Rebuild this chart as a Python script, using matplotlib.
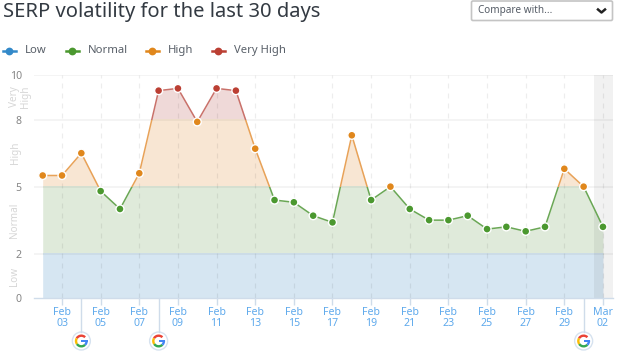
import matplotlib
matplotlib.use("Agg")
import matplotlib.pyplot as plt
from matplotlib.patches import Rectangle, Circle, Wedge, FancyBboxPatch

plt.rcParams['font.family'] = ['Noto Sans', 'DejaVu Sans']

title = "SERP volatility for the last 30 days"
dates = ["Feb 02","Feb 03","Feb 04","Feb 05","Feb 06","Feb 07","Feb 08","Feb 09","Feb 10","Feb 11",
         "Feb 12","Feb 13","Feb 14","Feb 15","Feb 16","Feb 17","Feb 18","Feb 19","Feb 20","Feb 21",
         "Feb 22","Feb 23","Feb 24","Feb 25","Feb 26","Feb 27","Feb 28","Feb 29","Mar 01","Mar 02"]
values = [5.5,5.5,6.5,4.8,4.0,5.6,9.3,9.4,7.9,9.4,
          9.3,6.7,4.4,4.3,3.7,3.4,7.3,4.4,5.0,4.0,
          3.5,3.5,3.7,3.1,3.2,3.0,3.2,5.8,5.0,3.2]
google_updates = ["Feb 04","Feb 08","Mar 01"]
band_names = ["Low","Normal","High","Very High"]
band_edges = [0,2,5,8,10]
band_dot = ["#3389c9","#4b982f","#e0871c","#bb3f33"]
band_line = ["#3389c9","#6aa755","#e8a258","#c9716a"]
band_fill = ["#d6e6f2","#dfeada","#f8e6d3","#efd9d8"]
y_ticks = [0,2,5,8,10]

W,H = 624,353
fig = plt.figure(figsize=(W/100,H/100),dpi=100)
L,R,T,B = 33.5,613,75,298.3
ax = fig.add_axes([L/W,1-B/H,(R-L)/W,(B-T)/H])
x = list(range(len(dates)))
ax.set_xlim(-0.476,29.52); ax.set_ylim(0,10)
for s in ax.spines.values(): s.set_visible(False)
ax.spines['bottom'].set_visible(True); ax.spines['bottom'].set_color("#cfdcea"); ax.spines['bottom'].set_linewidth(1)

for i in reversed(range(4)):
    lo,hi = band_edges[i],band_edges[i+1]
    # fills overlap by a fraction of a pixel so no seam shows between bands
    f = ax.fill_between(x,0,values,color=band_fill[i],lw=0,zorder=1+(3-i)*0.01)
    f.set_clip_path(Rectangle((-1,lo),32,hi-lo+0.05,transform=ax.transData))
    l, = ax.plot(x,values,color=band_line[i],lw=1.1,zorder=3)
    l.set_clip_path(Rectangle((-1,lo),32,hi-lo,transform=ax.transData))

ax.set_xticks(x[1::2])
ax.set_xticklabels([d.replace(" ","\n") for d in dates[1::2]],color="#5ea9ec",fontsize=7.6,linespacing=1.0)
ax.set_yticks(y_ticks); ax.set_yticklabels([str(t) for t in y_ticks],color="#858585",fontsize=7.6)
ax.tick_params(axis='x',length=5,width=1,color="#cfdcea",pad=1)
ax.tick_params(axis='y',length=0,pad=8.5)
for t in y_ticks[1:]:
    ax.axhline(t,color="#000000",alpha=0.05,lw=1.2,zorder=2)
for t in x[1::2]:
    ax.axvline(t,color="#000000",alpha=0.07,lw=0.9,ls=(0,(4,4)),zorder=2)
ax.axvspan(28.53,29.52,color="#000000",alpha=0.055,lw=0,zorder=2.5)

def band(v):
    for i in range(4):
        if v < band_edges[i+1]: return i
    return 3
ax.scatter(x,values,s=33,c=[band_dot[band(v)] for v in values],edgecolors="white",linewidths=1.0,zorder=4,clip_on=False)

# overlay in pixel coordinates for page furniture
ov = fig.add_axes([0,0,1,1]); ov.set_xlim(0,W); ov.set_ylim(H,0); ov.axis('off'); ov.patch.set_alpha(0)
ov.text(3,12.5,title,fontsize=14.5,color="#333a42",va='center',ha='left')
ov.add_patch(FancyBboxPatch((471.5,1),141,19.5,boxstyle="round,pad=0,rounding_size=1.5",fc="white",ec="#c4c4c4",lw=1.2))
ov.text(478,10.5,"Compare with...",fontsize=7.2,color="#555c66",va='center')
ov.plot([598,601.5,605],[9.5,12.5,9.5],color="#222222",lw=1.8)

leg_x = [9,72,152,218]
for nm,lx,c in zip(band_names,leg_x,band_dot):
    ov.plot([lx-6.5,lx+6.5],[50.5,50.5],color=c,lw=1.8)
    ov.plot([lx],[50.5],'o',color=c,ms=5.6,mew=0)
    ov.text(lx+15.5,50.5,nm,fontsize=8.1,color="#596069",va='center')

for txt,yy,xx in [("Low",276,15),("Normal",220,15),("High",153,15),("Very\nHigh",97,20.5)]:
    ov.text(xx,yy,txt,rotation=90,fontsize=7.2,color="#d6d6d6",ha='center',va='center',linespacing=1.0)

for g in google_updates:
    px = ax.transData.transform((dates.index(g),0))[0]
    ov.plot([px,px],[298.5,331.5],color="#cfdcea",lw=1)
    ov.add_patch(Circle((px,341),9,fc="white",ec="#d6e2ef",lw=1))
    # y axis is inverted in this layer, so angles run clockwise on screen
    for a,b,c in [(-45,-150,"#ea4335"),(-150,-215,"#fbbc05"),(-215,-315,"#34a853")]:
        ov.add_patch(Wedge((px,341),6.5,min(a,b),max(a,b),width=2.4,fc=c,ec='none'))
    ov.add_patch(Wedge((px,341),6.5,-5,45,width=2.4,fc="#4285f4",ec='none'))
    ov.add_patch(Rectangle((px,339.8),6.4,2.4,fc="#4285f4",ec='none'))

fig.savefig("out.png",dpi=100)
